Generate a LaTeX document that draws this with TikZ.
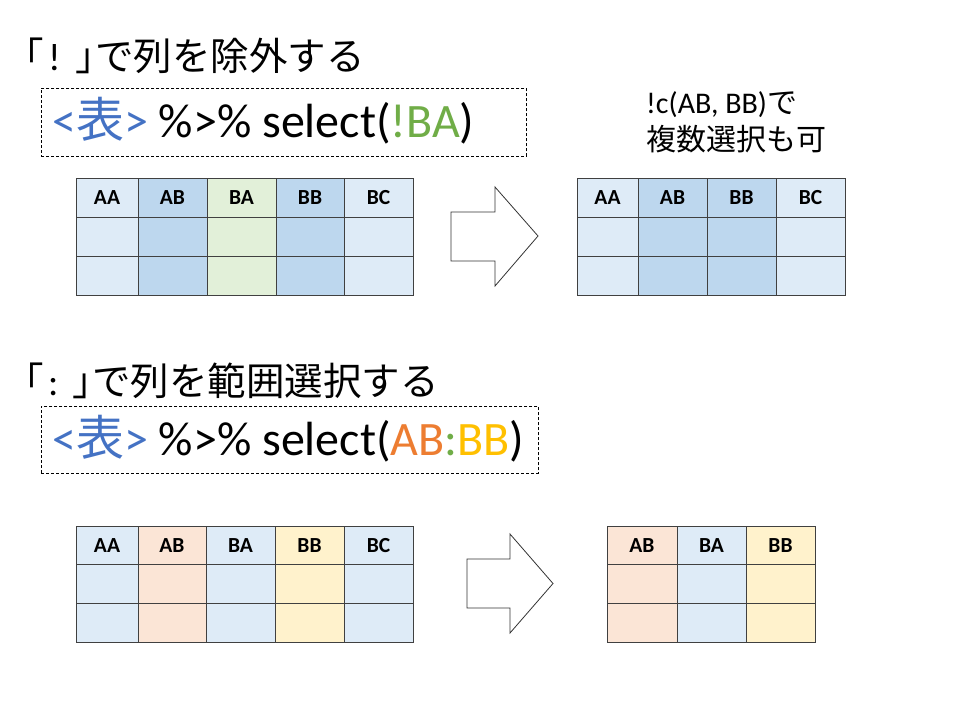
\documentclass[tikz,border=0pt]{standalone}
\usepackage{fontspec}
\setmainfont{Carlito}
\newfontfamily\jp{Noto Sans CJK JP}
\newfontfamily\jpp[RawFeature=+palt]{Noto Sans CJK JP}
\definecolor{cblue}{HTML}{4472C4}
\definecolor{cgreen}{HTML}{70AD47}
\definecolor{corange}{HTML}{ED7D31}
\definecolor{cyellow}{HTML}{FFC000}
\definecolor{lblue}{HTML}{DEEBF7}
\definecolor{dblue}{HTML}{BDD7EE}
\definecolor{lgreen}{HTML}{E2F0D9}
\definecolor{lorange}{HTML}{FBE5D6}
\definecolor{lyellow}{HTML}{FFF2CC}
\tikzset{>=stealth,
  title/.style={anchor=base west, inner sep=0, font=\fontsize{38.5}{38.5}\selectfont},
  code/.style={anchor=base west, inner sep=0, font=\fontsize{48}{48}\selectfont},
  note/.style={anchor=base west, inner sep=0, font=\fontsize{30}{30}\selectfont},
  codebox/.style={draw, dash pattern=on 3pt off 2pt, line width=0.8pt, anchor=north west, inner sep=0},
  cellbox/.style={draw=black!75, line width=0.9pt},
  head/.style={inner sep=0, font=\bfseries\fontsize{21.5}{21.5}\selectfont},
  blockarrow/.style={draw=black!80, line width=0.8pt, fill=white}}

\begin{document}
\begin{tikzpicture}[x=1pt, y=-1pt]
    \fill[white] (0,0) rectangle (960,720);
    \useasboundingbox (0,0) rectangle (960,720);

    % 「!」
    \node[title] (title1) at (24,70) {{\jpp 「}\hspace{5pt}!\hspace{15pt}{\jpp 」}{\jp で列を除外する}};
    \node[codebox, minimum width=485pt, minimum height=68pt] (box1) at (41,88) {};
    \node[code] (code1) at (52,137) {\textcolor{cblue}{<{\jp 表}>} \%>\% select(\textcolor{cgreen}{!BA})};
    \node[note] (note1) at (646,113) {!c(AB, BB){\jp で}};
    \node[note] (note2) at (646,150) {\jp 複数選択も可};

    \foreach \name/\xa/\xb/\fc in {AA/76/138/lblue, AB/138/207/dblue, BA/207/276/lgreen, BB/276/344/dblue, BC/344/413/lblue}{
        \foreach \r in {0,1,2}
            \draw[cellbox, fill=\fc] (\xa,178+39*\r) rectangle (\xb,217+39*\r);
        \node[head] (a\name) at ({(\xa+\xb)/2},197.5) {\name};
    }
    \draw[blockarrow] (451,212) -- (495,212) -- (495,187) -- (538,236) -- (495,286) -- (495,261) -- (451,261) -- cycle;
    \foreach \name/\xa/\xb/\fc in {AA/577/638/lblue, AB/638/707/dblue, BB/707/776/dblue, BC/776/845/lblue}{
        \foreach \r in {0,1,2}
            \draw[cellbox, fill=\fc] (\xa,178+39*\r) rectangle (\xb,217+39*\r);
        \node[head] (b\name) at ({(\xa+\xb)/2},197.5) {\name};
    }

    % 「:」
    \node[title] (title2) at (24,395) {{\jpp 「}\hspace{5pt}:\hspace{14pt}{\jpp 」}{\jp で列を範囲選択する}};
    \node[codebox, minimum width=497pt, minimum height=67pt] (box2) at (41,406) {};
    \node[code] (code2) at (52,455) {\textcolor{cblue}{<{\jp 表}>} \%>\% select(\textcolor{corange}{AB}\textcolor{cgreen}{:}\textcolor{cyellow}{BB})};

    \foreach \name/\xa/\xb/\fc in {AA/76/138/lblue, AB/138/206/lorange, BA/206/275/lblue, BB/275/344/lyellow, BC/344/413/lblue}{
        \foreach \r in {0,1,2}
            \draw[cellbox, fill=\fc] (\xa,526+38.7*\r) rectangle (\xb,564.7+38.7*\r);
        \node[head] (c\name) at ({(\xa+\xb)/2},545.3) {\name};
    }
    \draw[blockarrow] (467,559) -- (510,559) -- (510,534) -- (553,583.5) -- (510,633) -- (510,608) -- (467,608) -- cycle;
    \foreach \name/\xa/\xb/\fc in {AB/607/677/lorange, BA/677/746/lblue, BB/746/815/lyellow}{
        \foreach \r in {0,1,2}
            \draw[cellbox, fill=\fc] (\xa,526+38.7*\r) rectangle (\xb,564.7+38.7*\r);
        \node[head] (d\name) at ({(\xa+\xb)/2},545.3) {\name};
    }
\end{tikzpicture}
\end{document}
